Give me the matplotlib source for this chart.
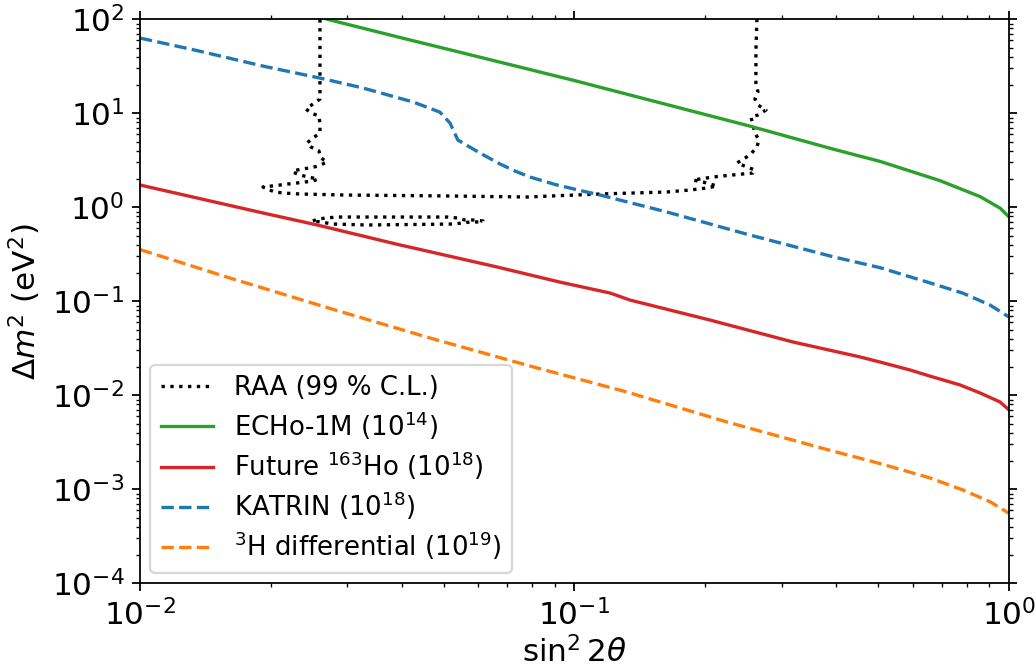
import matplotlib
matplotlib.use("Agg")
import matplotlib.pyplot as plt

# sensitivity curves (sin^2 2theta, dm^2 in eV^2)
echo_x = [0.0255, 0.027, 0.0397, 0.0554, 0.079, 0.100, 0.163, 0.253, 0.393, 0.505, 0.694, 0.858, 0.954, 1.0]
echo_y = [110, 100, 64.0, 43.8, 29.2, 22.3, 12.4, 7.32, 4.17, 3.08, 1.92, 1.30, 0.98, 0.79]

ho_x = [0.0100, 0.0192, 0.0256, 0.0390, 0.0663, 0.0926, 0.1207, 0.1341, 0.2050, 0.3184, 0.4542, 0.5047,
        0.5918, 0.658, 0.7712, 0.8577, 0.9535, 1.0]
ho_y = [1.727, 0.870, 0.648, 0.405, 0.232, 0.160, 0.1226, 0.1032, 0.0632, 0.0369, 0.0256, 0.0226,
        0.0186, 0.0160, 0.0129, 0.0106, 0.0085, 0.0070]

katrin_x = [0.0100, 0.01353, 0.01919, 0.02596, 0.03259, 0.0425, 0.0490, 0.0517, 0.0539, 0.0606, 0.0674, 0.0730,
            0.0790, 0.0902, 0.1030, 0.1145, 0.1632, 0.2534, 0.3934, 0.5047, 0.658, 0.7837, 0.9043, 1.0]
katrin_y = [63.2, 46.5, 31.8, 23.7, 18.6, 13.2, 10.3, 7.88, 5.20, 3.78, 2.89, 2.43,
            2.10, 1.75, 1.51, 1.352, 0.891, 0.507, 0.298, 0.228, 0.157, 0.122, 0.0913, 0.0681]

tritium_x = [0.0100, 0.0161, 0.0274, 0.0465, 0.0790, 0.1320, 0.2244, 0.3812, 0.5047, 0.658, 0.7837, 0.9043, 1.0]
tritium_y = [0.355, 0.1770, 0.0838, 0.0407, 0.0205, 0.01084, 0.00520, 0.00265, 0.00188, 0.00132, 0.000983,
             0.000738, 0.000556]

# RAA 99 % C.L. contour: main branch and small island
raa_x = [0.02596, 0.02596, 0.02596, 0.02596, 0.02501, 0.02410, 0.02475, 0.02582, 0.02596, 0.02596, 0.02501,
         0.02423, 0.02475, 0.02582, 0.02610, 0.02694, 0.02569, 0.02462, 0.02359, 0.02249, 0.02249, 0.02334,
         0.02436, 0.02569, 0.02501, 0.02397, 0.02297, 0.02190, 0.02101, 0.02013, 0.01919, 0.01960, 0.02045,
         0.02134, 0.02334, 0.02933, 0.05169, 0.0777, 0.1145, 0.1632, 0.1844, 0.2018, 0.2128, 0.1976, 0.1874,
         0.2084, 0.2317, 0.2575, 0.2602, 0.2495, 0.2366, 0.2534, 0.2630, 0.2658, 0.2602, 0.2548, 0.2644,
         0.2759, 0.2644, 0.2602, 0.2644, 0.2616, 0.2616, 0.2630]
raa_y = [100, 36.9, 17.7, 14.2, 12.56, 11.11, 10.07, 9.36, 7.69, 6.17, 5.46,
         4.83, 4.38, 3.97, 3.35, 3.03, 2.75, 2.62, 2.56, 2.43, 2.37, 2.21,
         2.10, 2.00, 1.905, 1.858, 1.813, 1.770, 1.727, 1.685, 1.644, 1.565, 1.455,
         1.419, 1.385, 1.352, 1.319, 1.287, 1.385, 1.455, 1.528, 1.604, 1.685, 1.858, 1.951,
         2.10, 2.21, 2.317, 2.494, 2.684, 2.96, 3.60, 4.38, 5.20, 6.17, 9.13, 9.59,
         10.84, 12.25, 14.2, 16.85, 21.0, 47.1, 100]
island_x = [0.0250, 0.0257, 0.0269, 0.0284, 0.0509, 0.0537, 0.0560, 0.0584, 0.0616, 0.0616, 0.0575,
            0.0554, 0.0525, 0.0333, 0.0278, 0.0260, 0.0250]
island_y = [0.715, 0.751, 0.770, 0.788, 0.788, 0.770, 0.733, 0.733, 0.715, 0.698, 0.698,
            0.681, 0.664, 0.648, 0.664, 0.698, 0.715]

fig = plt.figure(figsize=(1036 / 160, 668 / 160), dpi=160)
ax = fig.add_axes([0.1351, 0.1268, 0.8388, 0.8443])

ax.plot(raa_x, raa_y, 'k:', label='RAA (99 % C.L.)')
ax.plot(island_x, island_y, 'k:')
ax.plot(echo_x, echo_y, color='tab:green', label=r'ECHo-1M ($10^{14}$)')
ax.plot(ho_x, ho_y, color='tab:red', label=r'Future $^{163}$Ho ($10^{18}$)')
ax.plot(katrin_x, katrin_y, '--', color='tab:blue', label=r'KATRIN ($10^{18}$)')
ax.plot(tritium_x, tritium_y, '--', color='tab:orange', label=r'$^{3}$H differential ($10^{19}$)')

ax.set_xscale('log')
ax.set_yscale('log')
ax.set_xlim(1e-2, 1)
ax.set_ylim(1e-4, 1e2)
ax.tick_params(which='both', top=True, right=True, labelsize=14)
ax.set_xlabel(r'$\sin^2 2\theta$', fontsize=14, labelpad=2)
ax.set_ylabel(r'$\Delta m^2$ (eV$^2$)', fontsize=14)
ax.legend(loc='lower left', fontsize=11.7, labelspacing=0.3, borderaxespad=0.4)

fig.savefig('out.png', dpi=160)
